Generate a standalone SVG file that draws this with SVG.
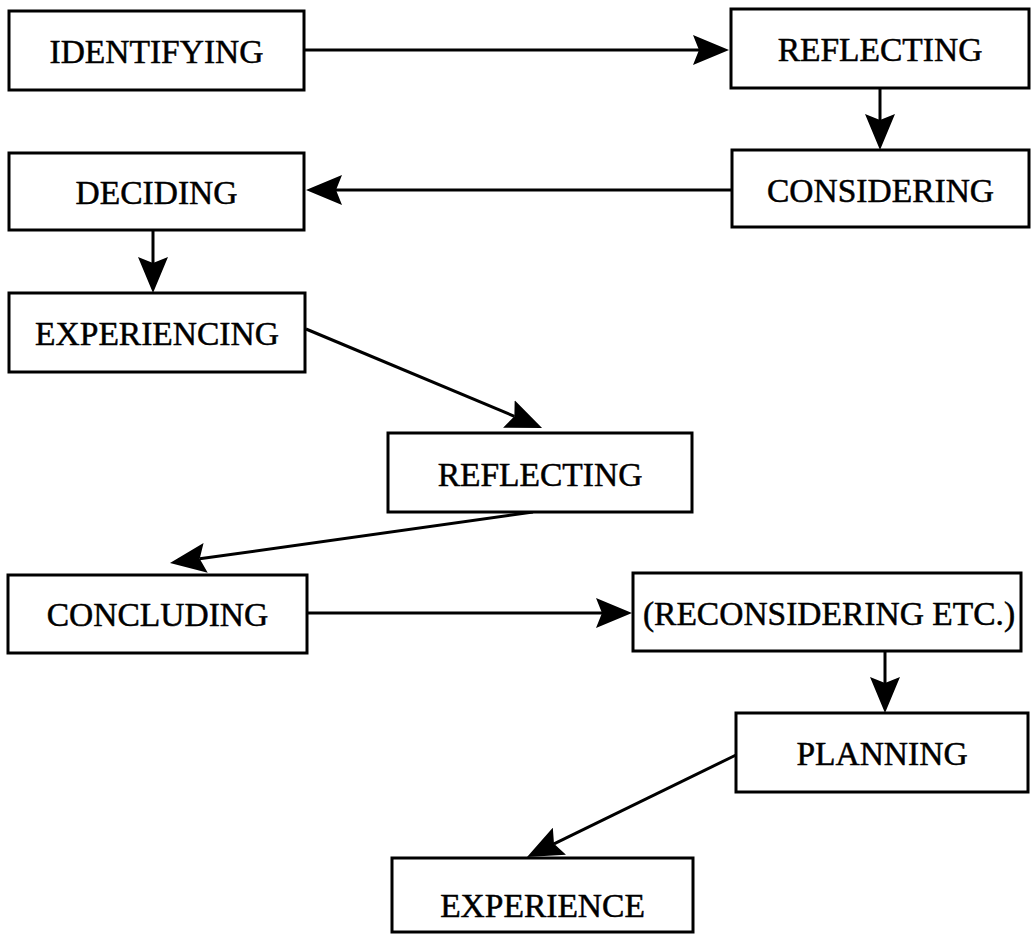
<svg xmlns="http://www.w3.org/2000/svg" width="1034" height="934" viewBox="0 0 1034 934">
<style>
.box{fill:#fff;stroke:#000;stroke-width:3}
.lbl{font-family:"Liberation Serif","Times New Roman",serif;font-size:33.5px;fill:#000;stroke:#000;stroke-width:0.5;text-anchor:middle}
.con{fill:none;stroke:#000;stroke-width:3}
</style>
<defs>
<marker id="ah" viewBox="0 0 36 30" refX="6" refY="15" markerWidth="36" markerHeight="30" markerUnits="userSpaceOnUse" orient="auto">
<path d="M0,0 L36,15 L0,30 L6,15 Z" fill="#000"/>
</marker>
</defs>
<rect width="1034" height="934" fill="#fff"/>
<g id="connectors">
<line class="con" x1="304" y1="50" x2="699" y2="50" marker-end="url(#ah)"/>
<line class="con" x1="880" y1="88" x2="880" y2="120" marker-end="url(#ah)"/>
<line class="con" x1="732" y1="190" x2="336" y2="190" marker-end="url(#ah)"/>
<line class="con" x1="153" y1="230" x2="153" y2="263" marker-end="url(#ah)"/>
<line class="con" x1="306" y1="329" x2="514.4" y2="416.3" marker-end="url(#ah)"/>
<line class="con" x1="533" y1="512" x2="199.7" y2="558.8" marker-end="url(#ah)"/>
<line class="con" x1="307" y1="613" x2="602" y2="613" marker-end="url(#ah)"/>
<line class="con" x1="885" y1="651" x2="885" y2="683" marker-end="url(#ah)"/>
<line class="con" x1="736" y1="755" x2="554" y2="843.8" marker-end="url(#ah)"/>
</g>
<g id="n-identifying"><rect class="box" x="9" y="11" width="295" height="79"/><text class="lbl" x="156.5" y="63">IDENTIFYING</text></g>
<g id="n-reflecting1"><rect class="box" x="731" y="9" width="298" height="79"/><text class="lbl" x="880" y="61">REFLECTING</text></g>
<g id="n-considering"><rect class="box" x="732" y="150" width="297" height="77"/><text class="lbl" x="880.5" y="201.5">CONSIDERING</text></g>
<g id="n-deciding"><rect class="box" x="9" y="153" width="295" height="77"/><text class="lbl" x="156.5" y="203.5">DECIDING</text></g>
<g id="n-experiencing"><rect class="box" x="9" y="293" width="296" height="79"/><text class="lbl" x="157" y="345">EXPERIENCING</text></g>
<g id="n-reflecting2"><rect class="box" x="388" y="433" width="304" height="79"/><text class="lbl" x="540" y="485.5">REFLECTING</text></g>
<g id="n-concluding"><rect class="box" x="8" y="575" width="299" height="78"/><text class="lbl" x="157.5" y="626">CONCLUDING</text></g>
<g id="n-reconsidering"><rect class="box" x="633" y="573" width="388" height="78"/><text class="lbl" x="829" y="625">(RECONSIDERING ETC.)</text></g>
<g id="n-planning"><rect class="box" x="736" y="713" width="292" height="79"/><text class="lbl" x="882" y="764.5">PLANNING</text></g>
<g id="n-experience"><rect class="box" x="392" y="858" width="301" height="74"/><text class="lbl" x="542.5" y="917">EXPERIENCE</text></g>
</svg>
